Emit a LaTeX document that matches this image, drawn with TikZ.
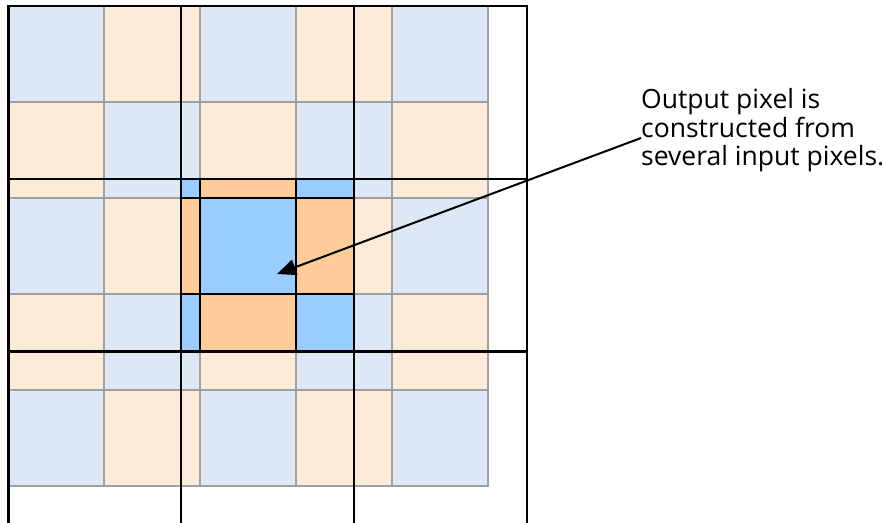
\documentclass[tikz,border=0pt]{standalone}
\usepackage{fontspec}
\setmainfont{Open Sans}
\usetikzlibrary{arrows.meta}
\definecolor{paleblue}{HTML}{DCE8F6}
\definecolor{paleorange}{HTML}{FDEBDA}
\definecolor{hotblue}{HTML}{99CCFF}
\definecolor{hotorange}{HTML}{FFCC99}
\definecolor{cellgray}{HTML}{A0A0A0}

\begin{document}
\begin{tikzpicture}[x=1pt,y=-1pt,
  incell/.style={draw=cellgray,line width=2pt},
  hotcell/.style={draw=black,line width=1.8pt},
  outgrid/.style={draw=black,line width=2.3pt},
  pointer/.style={draw=black,line width=2pt,-{Triangle[length=19pt,width=16pt]}},
  caption/.style={font=\fontsize{26.5}{28.7}\selectfont,align=left,inner sep=0pt,anchor=north west}]
\useasboundingbox (0,0) rectangle (890,522);

% input pixels: 5x5 checkerboard of 96 px squares
\foreach \i in {0,...,4}
  \foreach \j in {0,...,4}{
    \ifodd\numexpr\i+\j\relax \def\cellfill{paleorange}\else\def\cellfill{paleblue}\fi
    \path[incell,fill=\cellfill] (8+96*\i,6+96*\j) rectangle ++(96,96);
  }

% input pixels covered by the central output pixel
\begin{scope}
  \clip (181.3,178.8) rectangle (354.1,351.6);
  \foreach \i in {1,...,3}
    \foreach \j in {1,...,3}{
      \ifodd\numexpr\i+\j\relax \def\cellfill{hotorange}\else\def\cellfill{hotblue}\fi
      \path[hotcell,fill=\cellfill] (8+96*\i,6+96*\j) rectangle ++(96,96);
    }
\end{scope}

% output pixel grid, 172.8 px per cell
\foreach \k in {0,...,3}{
  \draw[outgrid] (8.5+172.8*\k,5) -- (8.5+172.8*\k,530);
}
\foreach \k in {0,...,3}{
  \draw[outgrid] (7.5,6+172.8*\k) -- (527.9,6+172.8*\k);
}

% caption and pointer
\node[caption] (caption) at (641,88) {Output pixel is\\constructed from\\several input pixels.};
\coordinate (lead) at (641,138);
\coordinate (tip) at (277,274);
\draw[pointer] (lead) -- (tip);
\end{tikzpicture}
\end{document}
